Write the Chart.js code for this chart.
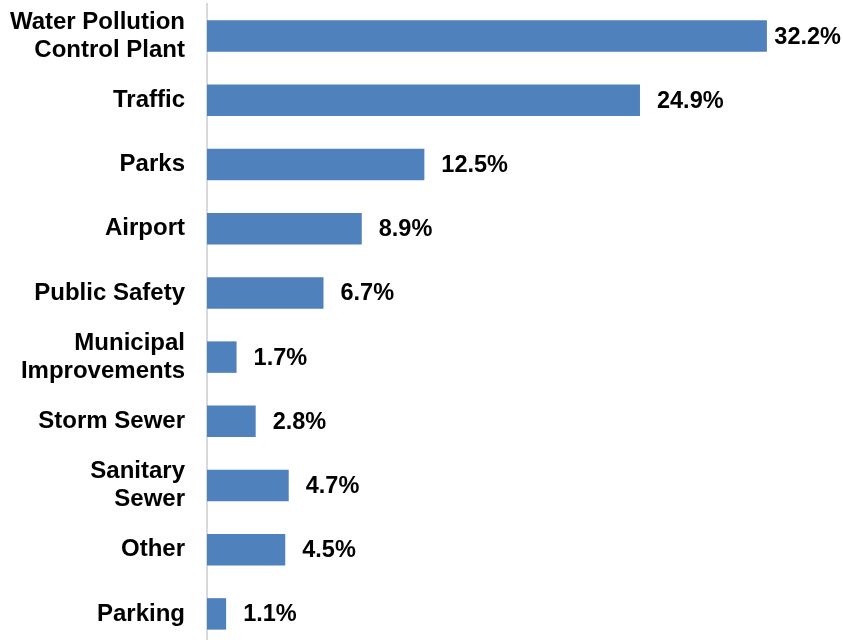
<!DOCTYPE html>
<html>
<head>
<meta charset="utf-8">
<script src="https://cdn.jsdelivr.net/npm/chart.js@4/dist/chart.umd.min.js"></script>
<style>
    html, body { margin: 0; padding: 0; background: #fff; overflow: hidden; }
    canvas { display: block; }
</style>
</head>
<body>
<canvas id="shareChart" width="843" height="650"></canvas>
<script>
const categories = [
    ["Water Pollution", "Control Plant"],
    "Traffic",
    "Parks",
    "Airport",
    "Public Safety",
    ["Municipal", "Improvements"],
    "Storm Sewer",
    ["Sanitary", "Sewer"],
    "Other",
    "Parking",
];
const shares = [32.2, 24.9, 12.5, 8.9, 6.7, 1.7, 2.8, 4.7, 4.5, 1.1];

const FONT = "'Liberation Sans', Arial, sans-serif";

// prints "xx.x%" just past the end of each bar, kept inside the canvas
const valueLabels = {
    id: "valueLabels",
    afterDatasetsDraw(chart) {
        const ctx = chart.ctx;
        const meta = chart.getDatasetMeta(0);
        ctx.save();
        ctx.font = "bold 23.5px " + FONT;
        ctx.fillStyle = "#000";
        ctx.textBaseline = "middle";
        ctx.textAlign = "left";
        meta.data.forEach((bar, i) => {
            const txt = shares[i].toFixed(1) + "%";
            const w = ctx.measureText(txt).width;
            const x = Math.min(bar.x + 17, chart.width - w - 2);
            ctx.fillText(txt, x, bar.y + 1);
        });
        ctx.restore();
    },
};

new Chart(document.getElementById("shareChart").getContext("2d"), {
    type: "bar",
    data: {
        labels: categories,
        datasets: [
            {
                data: shares,
                backgroundColor: "#4f81bd",
                borderWidth: 0,
                categoryPercentage: 1,
                barPercentage: 0.49,
            },
        ],
    },
    options: {
        indexAxis: "y",
        responsive: false,
        animation: false,
        devicePixelRatio: 1,
        layout: { padding: { top: 4, bottom: 4, left: 0, right: 10 } },
        plugins: {
            legend: { display: false },
            tooltip: { enabled: false },
        },
        scales: {
            x: {
                display: false,
                min: 0,
                max: 36,
            },
            y: {
                // fixed label column, no extra room above/below for the labels
                afterFit: (scale) => {
                    scale.width = 207;
                    scale.paddingTop = 0;
                    scale.paddingBottom = 0;
                },
                grid: { display: false, drawTicks: false },
                border: { display: true, color: "#d9d9d9", width: 2 },
                ticks: {
                    padding: 22,
                    color: "#000",
                    font: { family: FONT, size: 24, weight: "bold", lineHeight: 1.15 },
                },
            },
        },
    },
    plugins: [valueLabels],
});
</script>
</body>
</html>
